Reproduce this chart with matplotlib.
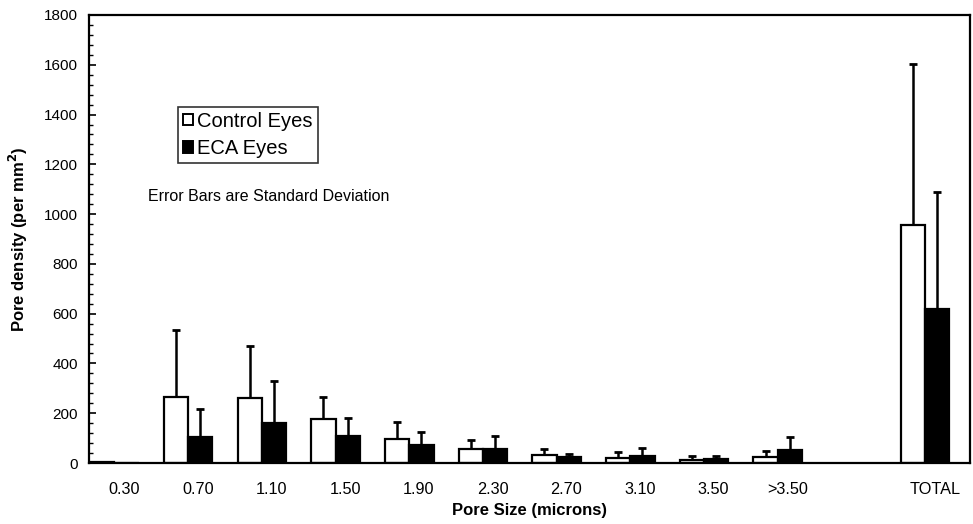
import numpy as np
import matplotlib
matplotlib.use("Agg")
import matplotlib.pyplot as plt
from matplotlib.patches import Patch
from matplotlib.ticker import MultipleLocator

# Values (pores per mm^2)
categories = ["0.30", "0.70", "1.10", "1.50", "1.90", "2.30", "2.70", "3.10", "3.50", ">3.50", "TOTAL"]
cat_pos = [0, 1, 2, 3, 4, 5, 6, 7, 8, 9, 11]
control = [3, 266, 262, 177, 98, 56, 33, 20, 14, 23, 957]
control_sd = [0, 269, 210, 87, 67, 35, 23, 23, 16, 24, 647]
eca = [0, 106, 162, 108, 71, 55, 23, 28, 16, 54, 620]
eca_sd = [0, 110, 169, 73, 55, 52, 15, 31, 14, 51, 467]

plt.rcParams["font.family"] = ["Liberation Sans", "DejaVu Sans"]

fig = plt.figure(figsize=(9.73, 5.24), dpi=100)
ax = fig.add_axes([0.0915, 0.1164, 0.9055, 0.855])

x = np.array(cat_pos, dtype=float)
w = 0.33
shift = -0.13
xc = x + shift - w / 2
xe = x + shift + w / 2

ax.bar(xc, control, width=w, color="white", edgecolor="black", linewidth=1.6, zorder=2)
ax.bar(xe, eca, width=w, color="black", edgecolor="black", linewidth=1.6, zorder=2)

zeros = np.zeros(len(control))
ax.errorbar(xc, control, yerr=[zeros, control_sd], fmt="none", ecolor="black",
            elinewidth=1.8, capsize=2.8, capthick=2, zorder=1)
ax.errorbar(xe, eca, yerr=[zeros, eca_sd], fmt="none", ecolor="black",
            elinewidth=1.8, capsize=2.8, capthick=2, zorder=1)

ax.set_xlim(-0.475, 11.48)
ax.set_ylim(0, 1800)
ax.set_xticks(x)
ax.set_xticklabels(categories)
ax.yaxis.set_major_locator(MultipleLocator(200))
ax.yaxis.set_minor_locator(MultipleLocator(40))
ax.tick_params(axis="x", length=0, pad=14, labelsize=11.7)
ax.tick_params(axis="y", which="major", direction="in", length=5, width=1.2, pad=8, labelsize=11)
ax.tick_params(axis="y", which="minor", direction="in", length=3, width=1)
for s in ax.spines.values():
    s.set_linewidth(1.6)

ax.set_xlabel("Pore Size (microns)", fontsize=12, fontweight="bold", labelpad=4)
ax.set_ylabel("Pore density (per mm$^\\mathbf{2}$)", fontsize=12, fontweight="bold", labelpad=10)

handles = [Patch(facecolor="white", edgecolor="black", linewidth=1.4, label="Control Eyes"),
           Patch(facecolor="black", edgecolor="black", linewidth=1.4, label="ECA Eyes")]
leg = ax.legend(handles=handles, loc="upper left", bbox_to_anchor=(0.101, 0.795),
                fontsize=14.5, frameon=True, fancybox=False, handlelength=0.5,
                handleheight=0.5, handletextpad=0.2, borderpad=0.25, labelspacing=0.4,
                borderaxespad=0)
leg.get_frame().set_edgecolor("black")
leg.get_frame().set_linewidth(1.2)

ax.text(0.2035, 0.594, "Error Bars are Standard Deviation", transform=ax.transAxes,
        ha="center", va="center", fontsize=11.5)

fig.savefig("out.png", dpi=100)
